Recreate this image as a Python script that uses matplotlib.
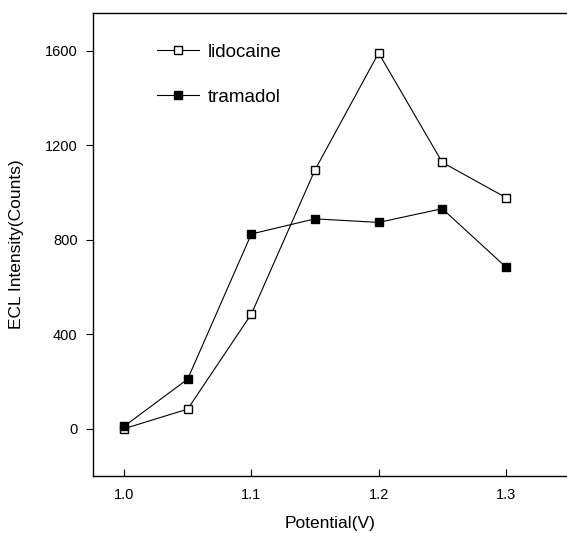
import numpy as np
import matplotlib.pyplot as plt

plt.rcParams['font.family'] = ['Liberation Sans', 'DejaVu Sans']

# Datos
potencial = [1.0, 1.05, 1.1, 1.15, 1.2, 1.25, 1.3]
lidocaina = [0, 83, 485, 1095, 1590, 1127, 978]
tramadol = [10, 210, 824, 888, 873, 931, 684]

fig = plt.figure(figsize=(5.67, 5.33), dpi=100)
ax = fig.add_axes([0.164, 0.107, 0.836, 0.869])

ax.plot(potencial, lidocaina, color='black', lw=0.8, marker='s', markersize=6,
        markerfacecolor='white', markeredgecolor='black', markeredgewidth=1.0,
        label='lidocaine')
ax.plot(potencial, tramadol, color='black', lw=0.8, marker='s', markersize=6,
        markerfacecolor='black', markeredgecolor='black', label='tramadol')

ax.set_xlim(0.9756, 1.348)
ax.set_ylim(-200, 1760)
ax.set_xticks([1.0, 1.1, 1.2, 1.3])
ax.set_yticks([0, 400, 800, 1200, 1600])
ax.tick_params(axis='x', direction='in', length=5, labelsize=10.5, pad=9)
ax.tick_params(axis='y', direction='out', length=5, labelsize=10.5, pad=6)
ax.spines['right'].set_visible(False)
for s in ['left', 'bottom', 'top']:
    ax.spines[s].set_linewidth(1.0)

ax.set_xlabel('Potential(V)', fontsize=12.5, labelpad=10)
ax.set_ylabel('ECL Intensity(Counts)', fontsize=12.5, labelpad=15)

ax.legend(loc='upper left', bbox_to_anchor=(0.1, 0.97), frameon=False,
          fontsize=13.5, handlelength=2.2, handletextpad=0.5, labelspacing=1.5)

fig.savefig('out.png', dpi=100)
